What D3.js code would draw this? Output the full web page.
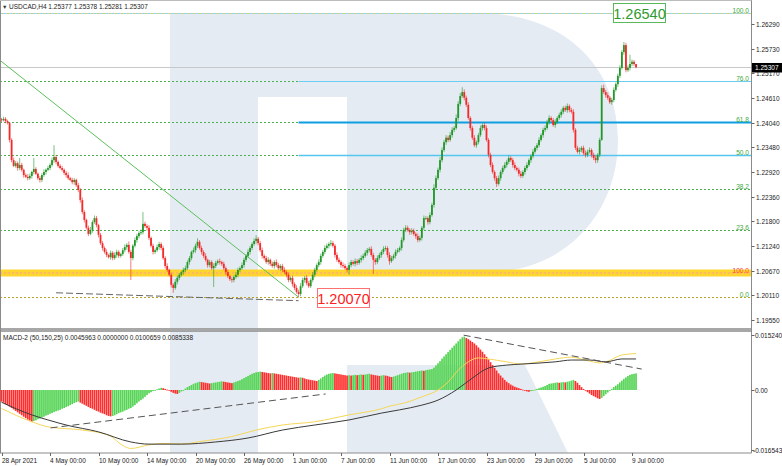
<!DOCTYPE html>
<html><head><meta charset="utf-8">
<script src="https://cdn.jsdelivr.net/npm/d3@7"></script>
<style>body{margin:0;background:#fff;} svg{display:block;font-family:"Liberation Sans",Arial,sans-serif;}</style>
</head><body><svg id="c" width="782" height="466"></svg>
<script>
// ---------- DATA ----------
const symbolTitle = "USDCAD,H4";
const headerValues = ["1.25377", "1.25378", "1.25281", "1.25307"];
const dateLabels = ["28 Apr 2021","4 May 00:00","10 May 00:00","14 May 00:00","20 May 00:00","26 May 00:00","1 Jun 00:00","7 Jun 00:00","11 Jun 00:00","17 Jun 00:00","23 Jun 00:00","29 Jun 00:00","5 Jul 00:00","9 Jul 00:00"];
const dateLabelBars = [0,24,48,72,96,120,144,168,192,216,240,264,288,312];
const priceTicks = [1.26290,1.25730,1.25170,1.24610,1.24040,1.23480,1.22920,1.22360,1.21800,1.21240,1.20670,1.20110,1.19550];
const firstOpen = 1.2412;
const closes = [
1.2410,1.2413,1.2408,1.2404,1.2365,1.2319,1.2306,1.2312,1.2301,1.2308,
1.2297,1.2285,1.2281,1.2278,1.2283,1.2292,1.2299,1.2288,1.2278,1.2274,
1.2285,1.2292,1.2297,1.2301,1.2308,1.2319,1.2326,1.2315,1.2306,1.2301,
1.2297,1.2290,1.2285,1.2278,1.2274,1.2269,1.2274,1.2262,1.2251,1.2228,
1.2201,1.2183,1.2165,1.2151,1.2160,1.2178,1.2187,1.2171,1.2149,1.2130,
1.2119,1.2110,1.2103,1.2098,1.2108,1.2096,1.2103,1.2110,1.2101,1.2105,
1.2114,1.2121,1.2126,1.2110,1.2096,1.2124,1.2137,1.2146,1.2153,1.2155,
1.2174,1.2169,1.2165,1.2142,1.2124,1.2110,1.2114,1.2121,1.2128,1.2119,
1.2096,1.2078,1.2069,1.2058,1.2035,1.2028,1.2042,1.2051,1.2058,1.2064,
1.2069,1.2073,1.2087,1.2096,1.2110,1.2114,1.2124,1.2133,1.2119,1.2110,
1.2101,1.2092,1.2080,1.2087,1.2073,1.2078,1.2085,1.2089,1.2087,1.2083,
1.2073,1.2064,1.2055,1.2048,1.2046,1.2053,1.2058,1.2069,1.2073,1.2080,
1.2092,1.2101,1.2110,1.2119,1.2128,1.2135,1.2140,1.2130,1.2114,1.2101,
1.2096,1.2087,1.2092,1.2083,1.2078,1.2087,1.2080,1.2073,1.2078,1.2069,
1.2064,1.2058,1.2046,1.2051,1.2037,1.2028,1.2019,1.2014,1.2032,1.2046,
1.2051,1.2039,1.2032,1.2046,1.2058,1.2069,1.2080,1.2087,1.2101,1.2110,
1.2119,1.2124,1.2128,1.2130,1.2124,1.2103,1.2092,1.2087,1.2080,1.2078,
1.2073,1.2069,1.2080,1.2087,1.2083,1.2089,1.2085,1.2092,1.2096,1.2101,
1.2108,1.2114,1.2117,1.2103,1.2092,1.2087,1.2096,1.2103,1.2110,1.2117,
1.2119,1.2103,1.2089,1.2096,1.2101,1.2110,1.2114,1.2119,1.2137,1.2160,
1.2165,1.2160,1.2155,1.2158,1.2151,1.2146,1.2137,1.2142,1.2165,1.2187,
1.2187,1.2178,1.2194,1.2217,1.2256,1.2278,1.2297,1.2319,1.2342,1.2360,
1.2370,1.2365,1.2376,1.2388,1.2392,1.2415,1.2447,1.2465,1.2474,1.2461,
1.2445,1.2415,1.2392,1.2370,1.2353,1.2360,1.2376,1.2392,1.2399,1.2392,
1.2365,1.2331,1.2308,1.2292,1.2278,1.2265,1.2278,1.2292,1.2301,1.2308,
1.2315,1.2324,1.2319,1.2308,1.2301,1.2297,1.2288,1.2283,1.2292,1.2301,
1.2308,1.2319,1.2328,1.2338,1.2347,1.2353,1.2365,1.2376,1.2388,1.2392,
1.2406,1.2415,1.2410,1.2399,1.2406,1.2415,1.2422,1.2429,1.2438,1.2433,
1.2442,1.2433,1.2429,1.2388,1.2347,1.2338,1.2342,1.2347,1.2335,1.2331,
1.2338,1.2342,1.2331,1.2324,1.2319,1.2331,1.2365,1.2483,1.2474,1.2467,
1.2461,1.2451,1.2456,1.2479,1.2492,1.2511,1.2529,1.2565,1.2581,1.2524,
1.2529,1.2538,1.2543,1.25377,1.25307];
// upper / lower shadow length of each candle, in pips (0.0001)
const wickUpPips = [
3,5,4,3,2,4,6,5,4,16, 5,3,4,6,5,3,25,4,3,5, 4,6,3,5,4,6,27,5,3,4, 5,3,4,6,3,5,4,3,5,4,
6,4,3,5,7,4,6,5,3,4, 5,4,6,3,5,4,6,5,4,3, 5,6,4,8,5,4,6,5,4,6, 27,5,4,6,3,5,4,6,5,4,
5,4,6,3,5,4,6,5,4,3, 5,6,4,5,3,6,5,8,4,5, 4,6,3,5,4,6,5,4,6,3, 5,4,6,3,5,4,6,5,4,6,
5,4,6,5,4,6,8,4,5,6, 4,5,6,3,5,4,6,5,4,5, 6,4,5,3,5,4,6,5,7,5, 4,6,5,4,6,5,4,6,5,4,
6,5,4,7,5,4,6,5,4,6, 5,4,6,5,4,6,5,4,6,5, 6,5,4,6,5,4,6,5,4,6, 5,4,6,5,4,6,5,4,6,5,
6,5,4,6,5,4,6,5,4,6, 5,4,6,5,8,6,5,7,6,5, 6,5,7,6,5,8,6,7,11,6, 5,6,4,5,6,4,5,6,4,5,
6,4,5,6,4,5,6,4,5,6, 5,6,4,5,6,4,5,6,4,5, 6,4,5,6,4,5,6,4,5,6, 5,6,4,5,6,4,5,6,4,5,
6,4,5,6,4,5,6,4,5,6, 5,6,4,5,6,4,5,6,8,5, 6,4,5,6,4,5,6,5,7,5, 6,21,5,4,0.1];
const wickDownPips = [
4,3,5,4,6,5,3,4,6,5, 4,6,3,5,4,6,5,3,4,6, 5,4,6,3,5,4,6,5,4,3, 4,5,6,4,3,5,6,4,5,6,
5,6,4,5,3,6,4,5,6,4, 6,4,5,3,6,5,4,6,5,4, 4,5,6,4,50,5,4,6,5,4, 5,4,6,5,4,6,5,4,6,5,
4,6,5,4,6,11,4,6,5,4, 6,5,4,6,5,4,6,5,4,6, 5,4,6,5,4,43,5,4,6,5, 4,6,5,4,6,5,4,6,5,4,
6,5,4,6,5,4,6,5,4,6, 5,4,6,5,4,6,5,4,6,5, 4,6,5,4,6,5,4,7,5,4, 6,5,4,4,5,6,4,5,6,4,
5,4,6,5,4,6,5,4,6,5, 4,6,11,5,4,6,5,4,6,5, 4,6,5,4,32,6,5,4,6,5, 4,6,8,4,5,6,4,5,6,4,
5,4,6,5,4,6,5,4,6,5, 4,6,5,4,6,5,4,6,5,4, 6,5,4,6,5,4,6,5,4,6, 5,4,6,5,4,6,5,4,6,5,
4,6,5,4,6,7,4,6,5,4, 6,5,4,6,5,4,6,5,4,6, 5,4,6,5,4,6,5,4,6,5, 4,6,5,4,6,5,4,6,5,4,
6,5,4,6,5,4,6,5,4,6, 5,4,6,5,7,6,5,2,4,6, 5,4,6,5,4,6,5,4,6,5, 4,6,5,4,2.6];
const fibLow = 1.20070, fibHigh = 1.26540;
const fibLevels = [0, 23.6, 38.2, 50, 61.8, 76, 100];
const supportLevel = 1.2062;
const currentPrice = 1.25307;
const macdTitle = "MACD-2 (50,150,25)";
const macdHeaderValues = ["0.0045963", "0.0000000", "0.0100659", "0.0085338"];
const macdHist = [
-0.0032,-0.0035,-0.0039,-0.0042,-0.0046,-0.0050,-0.0054,-0.0058,-0.0062,-0.0066,-0.0070,-0.0074,-0.0078,-0.0082,-0.0085,-0.0088,
-0.0086,-0.0084,-0.0081,-0.0079,-0.0076,-0.0074,-0.0071,-0.0069,-0.0066,-0.0064,-0.0061,-0.0059,-0.0057,-0.0055,-0.0052,-0.0050,-0.0047,-0.0045,-0.0042,-0.0039,-0.0036,-0.0034,-0.0032,
-0.0035,-0.0038,-0.0041,-0.0044,-0.0047,-0.0050,-0.0052,-0.0055,-0.0058,-0.0060,-0.0063,-0.0065,-0.0067,-0.0070,-0.0072,-0.0073,
-0.0072,-0.0070,-0.0067,-0.0064,-0.0062,-0.0060,-0.0057,-0.0055,-0.0052,-0.0050,-0.0046,-0.0042,-0.0037,-0.0032,-0.0028,-0.0024,-0.0019,-0.0014,-0.0009,-0.0006,-0.0003,0.0000,0.0002,0.0004,0.0006,
0.0005,0.0003,0.0001,-0.0002,-0.0005,-0.0008,-0.0010,-0.0011,
-0.0008,-0.0004,0.0000,0.0004,0.0008,0.0011,0.0014,0.0017,0.0019,0.0021,0.0023,
0.0022,0.0021,0.0020,0.0019,0.0018,
0.0019,0.0020,0.0021,0.0022,0.0023,0.0024,
0.0023,0.0022,0.0021,0.0020,0.0019,
0.0021,0.0023,0.0025,0.0027,0.0030,0.0033,0.0036,0.0039,0.0042,0.0045,0.0047,0.0049,0.0050,0.0051,
0.0050,0.0049,0.0048,0.0047,0.0046,0.0047,0.0046,0.0045,0.0044,0.0043,0.0042,0.0041,0.0040,0.0039,0.0038,0.0037,0.0036,0.0035,0.0034,0.0035,0.0034,0.0032,0.0030,0.0029,0.0028,0.0027,0.0026,0.0025,
0.0028,0.0032,0.0036,0.0040,0.0043,0.0045,0.0046,0.0047,
0.0046,0.0045,0.0044,0.0043,0.0042,0.0041,0.0040,0.0041,0.0040,0.0041,0.0042,0.0041,0.0042,0.0043,0.0042,0.0043,0.0044,0.0045,0.0043,0.0042,0.0041,0.0040,0.0039,0.0040,0.0041,0.0040,0.0039,0.0037,0.0036,0.0037,0.0039,
0.0041,0.0043,0.0045,0.0047,0.0048,0.0049,0.0048,0.0049,0.0050,0.0051,0.0052,0.0053,0.0054,0.0053,0.0055,0.0056,0.0057,0.0058,
0.0062,0.0068,0.0074,0.0080,0.0087,0.0093,0.0099,0.0105,0.0111,0.0117,0.0123,0.0129,0.0135,0.0141,0.0146,
0.0148,0.0144,0.0141,0.0137,0.0133,0.0129,0.0124,0.0118,0.0112,0.0106,0.0099,0.0092,0.0085,0.0077,0.0069,0.0061,0.0054,0.0046,0.0040,0.0034,0.0028,0.0023,0.0019,0.0015,0.0012,0.0009,0.0007,0.0005,0.0003,0.0001,-0.0002,-0.0004,-0.0005,
-0.0003,-0.0001,0.0001,0.0003,0.0005,0.0007,0.0009,0.0011,0.0014,0.0017,0.0018,0.0019,0.0020,0.0021,0.0020,0.0021,0.0022,0.0021,0.0023,0.0024,0.0026,0.0028,
0.0025,0.0020,0.0014,0.0008,0.0003,-0.0002,-0.0006,-0.0010,-0.0014,-0.0017,-0.0020,-0.0023,-0.0025,
-0.0022,-0.0017,-0.0012,-0.0007,-0.0002,0.0003,0.0008,0.0012,0.0016,0.0021,0.0026,0.0031,0.0035,0.0039,0.0042,0.0044,0.0045,0.0046];
const yellowBars = [0,15,23,40,53,61,64,73,81,89,98,114,126,139,155,172,188,192,200,208,216,221,226,231,236,241,250,257,266,274,282,291,296,300,307,314];
const yellowVals = [-0.0051,-0.0088,-0.0102,-0.0111,-0.0125,-0.0157,-0.0162,-0.0152,-0.0148,-0.0150,-0.0143,-0.0129,-0.0111,-0.0097,-0.0088,-0.0069,-0.0052,-0.0045,-0.0035,-0.0019,0.0000,0.0022,0.0055,0.0078,0.0089,0.0086,0.0078,0.0072,0.0078,0.0086,0.0091,0.0080,0.0075,0.0080,0.0097,0.0101];
const blackBars = [0,15,23,32,48,64,73,89,106,122,139,155,172,188,197,208,216,225,233,241,250,258,274,282,291,299,307,314];
const blackVals = [-0.0034,-0.0069,-0.0083,-0.0097,-0.0116,-0.0144,-0.0150,-0.0150,-0.0144,-0.0133,-0.0111,-0.0097,-0.0083,-0.0064,-0.0055,-0.0042,-0.0028,0.0000,0.0033,0.0061,0.0069,0.0072,0.0078,0.0083,0.0083,0.0078,0.0086,0.0086];
const macdTicks = [0.015240, 0.0, -0.016543];
const macdTickLabels = ["0.015240", "0.00", "-0.016543"];
const trendBars = [-1.5, 147], trendPrices = [1.2549, 1.2007];
const dashBars = [27, 147], dashPrices = [1.2017, 1.1999];
const macdDash1Bars = [24.3, 160.4], macdDash1Vals = [-0.0105, -0.0011];
const macdDash2Bars = [228.7, 316.8], macdDash2Vals = [0.0152, 0.0058];

// ---------- LAYOUT ----------
const svg = d3.select("#c");
const AX = 751.5;
const mainTop = 0, mainBot = 328.5, macdTop = 331, macdBot = 453;
const x = d3.scaleLinear().domain([0, 312]).range([1.5, 632]);
const y = d3.scaleLinear().domain([1.19550, 1.26290]).range([320, 24]);
const ym = d3.scaleLinear().domain([-0.016543, 0.015240]).range([449.7, 335]);
const fibPrice = l => fibLow + (fibHigh - fibLow) * l / 100;

const defs = svg.append("defs");
defs.append("clipPath").attr("id","cm").append("rect").attr("x",0).attr("y",mainTop).attr("width",AX).attr("height",mainBot-mainTop);
defs.append("clipPath").attr("id","cd").append("rect").attr("x",0).attr("y",macdTop).attr("width",AX).attr("height",macdBot-macdTop);

// watermark
const wm = "#e5ebf3";
const gm = svg.append("g").attr("clip-path","url(#cm)");
gm.append("path").attr("fill", wm)
  .attr("d","M170,13 H478 C566,13 618,68 618,140 C618,212 566,272 488,272 H347 V97 H258 V330 H170 Z");
const gd = svg.append("g").attr("clip-path","url(#cd)");
gd.append("rect").attr("x",170).attr("y",macdTop).attr("width",88).attr("height",macdBot-macdTop).attr("fill",wm);
gd.append("path").attr("fill",wm).attr("d","M347,365 H525 L568,453 H347 Z");

// fib dotted lines
const main = svg.append("g").attr("clip-path","url(#cm)");
fibLevels.forEach(l => {
  const yy = Math.round(y(fibPrice(l))) + 0.5;
  if (l === 100) {
    main.append("line").attr("x1",0).attr("x2",AX).attr("y1",yy).attr("y2",yy).attr("stroke","#8fd3f2").attr("stroke-width",1.2);
    main.append("line").attr("x1",0).attr("x2",AX).attr("y1",yy).attr("y2",yy).attr("stroke","#f2d34a").attr("stroke-width",1).attr("stroke-dasharray","1,2");
  } else if (l === 0) {
    main.append("line").attr("x1",0).attr("x2",AX).attr("y1",yy).attr("y2",yy).attr("stroke","#b7a32a").attr("stroke-width",1).attr("stroke-dasharray","2,2");
  } else {
    main.append("line").attr("x1",0).attr("x2",AX).attr("y1",yy).attr("y2",yy).attr("stroke","#4caf50").attr("stroke-width",1).attr("stroke-dasharray","2,2");
  }
});
// blue horizontal lines
[[50,"#55c6f0",1.4],[61.8,"#0f9ee0",2],[76,"#6ccdf2",1.2]].forEach(([l,c,w]) => {
  const yy = Math.round(y(fibPrice(l))) + 0.5;
  main.append("line").attr("x1",x(147)).attr("x2",AX).attr("y1",yy).attr("y2",yy).attr("stroke",c).attr("stroke-width",w);
});
// support band
const ys = y(supportLevel);
main.append("rect").attr("x",0).attr("width",AX).attr("y",ys-3.5).attr("height",7).attr("fill","#ffd21a").attr("opacity",0.9);
main.append("line").attr("x1",0).attr("x2",AX).attr("y1",ys).attr("y2",ys).attr("stroke","#ff9a9a").attr("stroke-dasharray","2,2");
// current price line
const yc = Math.round(y(currentPrice)) + 0.5;
main.append("line").attr("x1",0).attr("x2",AX).attr("y1",yc).attr("y2",yc).attr("stroke","#c8c8c8");
// trend lines
main.append("line").attr("x1",x(trendBars[0])).attr("y1",y(trendPrices[0])).attr("x2",x(trendBars[1])).attr("y2",y(trendPrices[1])).attr("stroke","#5cbf5c").attr("stroke-width",1);
main.append("line").attr("x1",x(dashBars[0])).attr("y1",y(dashPrices[0])).attr("x2",x(dashBars[1])).attr("y2",y(dashPrices[1])).attr("stroke","#666").attr("stroke-width",1).attr("stroke-dasharray","7,3");

// candles
const candles = closes.map((c,i)=>{
  const o = i===0 ? firstOpen : closes[i-1];
  return {i, o, c, h: Math.max(o,c) + wickUpPips[i]*0.0001, l: Math.min(o,c) - wickDownPips[i]*0.0001};
});
const cg = main.append("g");
candles.forEach(d => {
  const up = d.c >= d.o;
  const col = up ? "#23982a" : "#f42a2a";
  const cx = x(d.i);
  cg.append("line").attr("x1",cx).attr("x2",cx).attr("y1",y(d.h)).attr("y2",y(d.l)).attr("stroke",col).attr("stroke-width",0.8).attr("opacity",0.75);
  const top = y(Math.max(d.o,d.c)), bot = y(Math.min(d.o,d.c));
  cg.append("rect").attr("x",cx-0.9).attr("width",1.8).attr("y",top).attr("height",Math.max(1,bot-top)).attr("fill",col);
});

// fib labels
fibLevels.forEach(l => {
  const yy = Math.round(y(fibPrice(l)));
  svg.append("text").attr("x",749).attr("y",yy-0.5).attr("text-anchor","end").attr("font-size",6.6).attr("fill","#3ea83e").text(l.toFixed(1));
});
svg.append("text").attr("x",749).attr("y",ys-0.5).attr("text-anchor","end").attr("font-size",6.6).attr("fill","#ff3b3b").text((100).toFixed(1));

// big labels
function bigLabel(price, bx, by, col, tcol) {
  const g = svg.append("g");
  g.append("rect").attr("x",bx).attr("y",by).attr("width",52).attr("height",19).attr("fill","#fff").attr("stroke",col).attr("stroke-width",1);
  g.append("text").attr("x",bx+26).attr("y",by+15).attr("text-anchor","middle").attr("font-size",14.5).attr("fill",tcol).text(price.toFixed(5));
}
bigLabel(fibHigh, 613.5, 3.5, "#5cb85c", "#2e9a2e");
bigLabel(fibLow, 317.5, 288.5, "#ff7070", "#ff2020");

// frames
const frame = svg.append("g").attr("stroke","#8a8a8a").attr("fill","none");
frame.append("line").attr("x1",0.5).attr("x2",0.5).attr("y1",0).attr("y2",macdBot);
frame.append("line").attr("x1",AX).attr("x2",AX).attr("y1",0).attr("y2",macdBot);
frame.append("line").attr("x1",0).attr("x2",AX).attr("y1",0.5).attr("y2",0.5).attr("stroke","#bdbdbd");
frame.append("line").attr("x1",0).attr("x2",AX).attr("y1",mainBot+0.5).attr("y2",mainBot+0.5).attr("stroke-width",1.3);
frame.append("line").attr("x1",0).attr("x2",AX).attr("y1",macdTop).attr("y2",macdTop).attr("stroke-width",1.3);
frame.append("line").attr("x1",0).attr("x2",AX).attr("y1",macdBot).attr("y2",macdBot);

// right price axis
priceTicks.forEach(p => {
  const yy = Math.round(y(p)) + 0.5;
  svg.append("line").attr("x1",AX).attr("x2",AX+3).attr("y1",yy).attr("y2",yy).attr("stroke","#666");
  svg.append("text").attr("x",756).attr("y",yy+2.4).attr("font-size",6.5).attr("fill","#222").text(p.toFixed(5));
});
svg.append("rect").attr("x",752).attr("y",yc-4.5).attr("width",30).attr("height",9.5).attr("fill","#000");
svg.append("text").attr("x",755).attr("y",yc+2.4).attr("font-size",6.5).attr("fill","#fff").text(currentPrice.toFixed(5));

// header
svg.append("text").attr("x",2).attr("y",8.5).attr("font-size",5.5).attr("fill","#333").text("\u25BC");
svg.append("text").attr("x",9).attr("y",8.5).attr("font-size",6.5).attr("fill","#222").text(symbolTitle + "  " + headerValues.join(" "));

// MACD
const mg = svg.append("g").attr("clip-path","url(#cd)");
macdHist.forEach((v,i) => {
  const up = i>0 ? v > macdHist[i-1] : false;
  const a = ym(0), b = ym(v);
  mg.append("rect").attr("x",x(i)-0.85).attr("width",1.7).attr("y",Math.min(a,b)).attr("height",Math.max(0.8,Math.abs(b-a)))
    .attr("fill", up ? "#55d455" : "#ff2e2e");
});
const line = d3.line().x(d=>x(d[0])).y(d=>ym(d[1])).curve(d3.curveMonotoneX);
mg.append("path").attr("d",line(yellowBars.map((b,i)=>[b,yellowVals[i]]))).attr("fill","none").attr("stroke","#f5d659").attr("stroke-width",1);
mg.append("path").attr("d",line(blackBars.map((b,i)=>[b,blackVals[i]]))).attr("fill","none").attr("stroke","#3a3a3a").attr("stroke-width",1);
[[macdDash1Bars,macdDash1Vals],[macdDash2Bars,macdDash2Vals]].forEach(([bs,vs])=>{
  mg.append("line").attr("x1",x(bs[0])).attr("y1",ym(vs[0])).attr("x2",x(bs[1])).attr("y2",ym(vs[1])).attr("stroke","#555").attr("stroke-dasharray","7,4");
});
svg.append("text").attr("x",3).attr("y",339.5).attr("font-size",6.5).attr("fill","#222").text(macdTitle + " " + macdHeaderValues.join(" "));
macdTicks.forEach((v,i) => {
  const yy = Math.round(ym(v)) + 0.5;
  svg.append("line").attr("x1",AX).attr("x2",AX+3).attr("y1",yy).attr("y2",yy).attr("stroke","#666");
  svg.append("text").attr("x",macdTickLabels[i].startsWith("-") ? 753 : 755).attr("y",yy+2.4).attr("font-size",6.5).attr("fill","#222").text(macdTickLabels[i]);
});

// x axis
dateLabelBars.forEach((b,i) => {
  const xx = Math.round(x(b)) + 0.5;
  svg.append("line").attr("x1",xx).attr("x2",xx).attr("y1",macdBot).attr("y2",macdBot+3).attr("stroke","#666");
  svg.append("text").attr("x",xx-0.5).attr("y",462.5).attr("font-size",6.5).attr("fill","#222").text(dateLabels[i]);
});
</script></body></html>
